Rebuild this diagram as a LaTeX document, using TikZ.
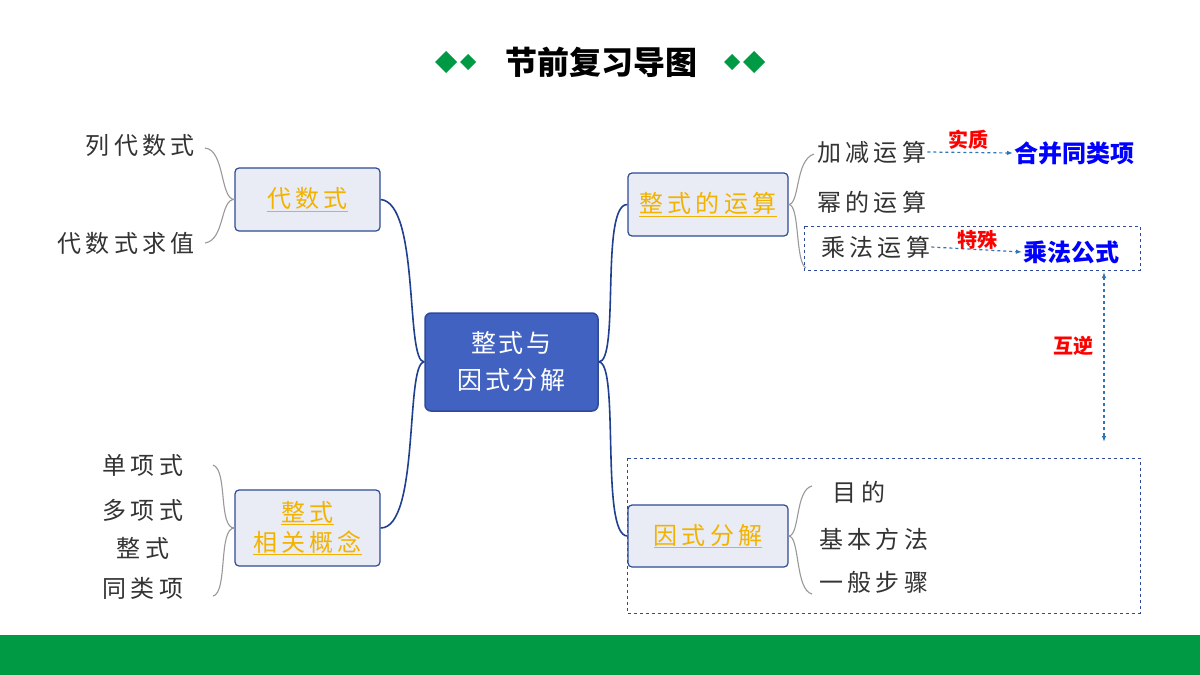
\documentclass[tikz,border=0pt]{standalone}
\usepackage{fontspec}
\setmainfont{Noto Sans CJK SC}
\usetikzlibrary{arrows.meta}
\definecolor{gr}{HTML}{009944}
\definecolor{cblue}{HTML}{4262C2}
\definecolor{dblue}{HTML}{2F4A96}
\definecolor{lbox}{HTML}{E9EBF5}
\definecolor{org}{HTML}{F2B300}
\definecolor{lineblue}{HTML}{1F3F8F}
\definecolor{dashc}{HTML}{2E75B6}
\newcommand{\myspc}{\addfontfeature{LetterSpace=18}}
\begin{document}
\begin{tikzpicture}[x=1pt,y=-1pt,
 box/.style={draw=dblue,line width=1.2pt,fill=lbox,rounded corners=4pt,inner sep=0pt,font=\fontsize{24}{30}\selectfont\myspc,text=org,align=center},
 item/.style={font=\fontsize{24}{26}\selectfont\myspc,text=black!80,inner sep=1pt},
 conn/.style={draw=lineblue,line width=1.6pt},
 brc/.style={draw=gray!80,line width=1.1pt},
 dsh/.style={draw=dashc,dashed,line width=1.2pt,-{Latex[length=6pt]}},
 redl/.style={font=\bfseries\fontsize{20}{22}\selectfont,text=red,inner sep=1pt},
 bl/.style={font=\bfseries\fontsize{24}{26}\selectfont,text=blue,inner sep=1pt}]
\useasboundingbox (0,0) rectangle (1200,675);
\fill[white] (0,0) rectangle (1200,675);
\fill[gr] (0,635) rectangle (1200,675);
% title
\node[font=\bfseries\fontsize{32}{34}\selectfont] (title) at (601,62) {节前复习导图};
\foreach \x/\s in {446/11,468/8,732/8,754/11}{\fill[gr] (\x-\s,62) -- (\x,62-\s) -- (\x+\s,62) -- (\x,62+\s) -- cycle;}
% center
\node[draw=dblue,fill=cblue,rounded corners=6pt,line width=1.5pt,minimum width=173pt,minimum height=98pt,text=white,align=center,font=\fontsize{25}{37}\selectfont\addfontfeature{LetterSpace=10}] (c) at (511.5,362) {整式与\\因式分解};
\node[box,minimum width=145pt,minimum height=63pt] (a) at (307.5,199.5) {\underline{代数式}};
\node[box,minimum width=145pt,minimum height=76pt] (b) at (307.5,528) {\underline{整式}\\\underline{相关概念}};
\node[box,minimum width=160pt,minimum height=63pt] (d) at (708,204.5) {\underline{整式的运算}};
\node[box,minimum width=160pt,minimum height=62pt] (e) at (708,536) {\underline{因式分解}};
\draw[conn] (c.west) .. controls (405,362) and (420,203) .. (a.east);
\draw[conn] (c.west) .. controls (405,362) and (420,528) .. (b.east);
\draw[conn] (c.east) .. controls (620,362) and (600,204) .. (d.west);
\draw[conn] (c.east) .. controls (620,362) and (600,536) .. (e.west);
% left items
\node[item,anchor=east] (a1) at (196,145) {列代数式};
\node[item,anchor=east] (a2) at (196,243) {代数式求值};
\draw[brc] (a.west) .. controls (220,199) and (225,150) .. (205,148);
\draw[brc] (a.west) .. controls (220,199) and (225,240) .. (205,243);
\node[item] (b1) at (143,465) {单项式};
\node[item] (b2) at (143,510) {多项式};
\node[item] (b3) at (143,548) {整式};
\node[item] (b4) at (143,588) {同类项};
\draw[brc] (b.west) .. controls (218,528) and (228,470) .. (213,465);
\draw[brc] (b.west) .. controls (218,528) and (228,593) .. (213,596);
% right top
\node[item,anchor=west] (d1) at (816,152) {加减运算};
\node[item,anchor=west] (d2) at (816,202) {幂的运算};
\node[item,anchor=west] (d3) at (820,247) {乘法运算};
\draw[brc] (d.east) .. controls (800,204) and (795,160) .. (814,154);
\draw[brc] (d.east) .. controls (800,204) and (795,262) .. (806,268);
\node[bl,anchor=west] (m1) at (1013,153) {合并同类项};
\node[bl,anchor=west] (m2) at (1022,252) {乘法公式};
\draw[dsh] (d1.east) -- (m1.west);
\draw[dsh] (d3.east) -- (m2.west);
\node[redl] (r1) at (968,140) {实质};
\node[redl] (r2) at (977,240) {特殊};
\draw[dblue,dashed,line width=1pt] (804,226) rectangle (1140,270);
% right bottom
\node[item] (e1) at (859,492) {目的};
\node[item,anchor=west] (e2) at (818,539) {基本方法};
\node[item,anchor=west] (e3) at (818,582) {一般步骤};
\draw[brc] (e.east) .. controls (800,536) and (795,490) .. (812,486);
\draw[brc] (e.east) .. controls (800,536) and (795,590) .. (812,594);
\draw[dblue,dashed,line width=1pt] (627,458) rectangle (1140,613);
\coordinate (u) at (1104,272); \coordinate (v) at (1104,442);
\draw[draw=dashc,dashed,line width=1.2pt,{Latex[length=6pt]}-{Latex[length=6pt]}] (u) -- (v);
\node[redl] (hn) at (1073,346) {互逆};
\end{tikzpicture}
\end{document}
